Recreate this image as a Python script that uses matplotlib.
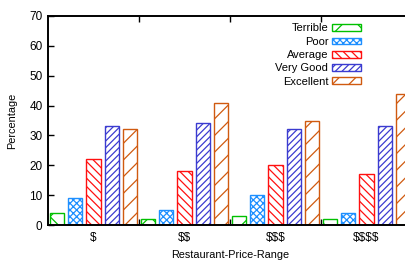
import numpy as np
import matplotlib
matplotlib.use('Agg')
import matplotlib.pyplot as plt
from matplotlib.ticker import FixedLocator

plt.rcParams['font.family'] = ['Liberation Sans', 'DejaVu Sans']
plt.rcParams['hatch.linewidth'] = 0.9
plt.rcParams['text.parse_math'] = False

price_ranges = ['$', '$$', '$$$', '$$$$']
ratings = ['Terrible', 'Poor', 'Average', 'Very Good', 'Excellent']
terrible = [4, 2, 3, 2]
poor = [9, 5, 10, 4]
average = [22, 18, 20, 17]
very_good = [33, 34, 32, 33]
excellent = [32, 41, 35, 44]

series = [terrible, poor, average, very_good, excellent]
colors = ['#00c000', '#1e8fff', '#ff1010', '#3b3bd0', '#d05a10']
hatches = ['x', 'xxxxx', '\\\\\\\\', '/////', '//']

fig = plt.figure(figsize=(4.05, 2.6), dpi=100)
ax = fig.add_axes([48/405, 35/260, 364/405, 209/260])

n = len(ratings)
for j, (vals, name) in enumerate(zip(series, ratings)):
    x = np.arange(len(price_ranges)) * n + j
    ax.bar(x, vals, width=0.77, facecolor='white', edgecolor=colors[j],
           hatch=hatches[j], linewidth=1.0, label=name)

ax.set_xlim(-0.5, n * len(price_ranges) - 0.5)
ax.set_ylim(0, 70)
ax.set_yticks(range(0, 71, 10))
centers = np.arange(len(price_ranges)) * n + (n - 1) / 2
ax.set_xticks(centers)
ax.set_xticklabels(price_ranges)
ax.xaxis.set_minor_locator(FixedLocator(np.arange(1, len(price_ranges)) * n - 0.5))
ax.tick_params(axis='x', which='major', length=0, labelsize=8.5, pad=5)
ax.tick_params(axis='x', which='minor', direction='in', length=4, top=True, width=1)
ax.tick_params(axis='y', direction='in', length=4, right=True, labelsize=8.5, width=1, pad=4)
for s in ax.spines.values():
    s.set_linewidth(1.4)

ax.set_xlabel('Restaurant-Price-Range', fontsize=7.8, labelpad=4)
ax.set_ylabel('Percentage', fontsize=7.8, labelpad=9)

leg = ax.legend(loc='upper right', bbox_to_anchor=(365/405, 1 - 19/260),
                bbox_transform=fig.transFigure, frameon=False, markerfirst=False,
                fontsize=8, handlelength=2.6, handleheight=0.55,
                labelspacing=0.3, handletextpad=0.3, borderaxespad=0)
for t in leg.get_texts():
    t.set_ha('right')

fig.savefig('out.png', dpi=100)
